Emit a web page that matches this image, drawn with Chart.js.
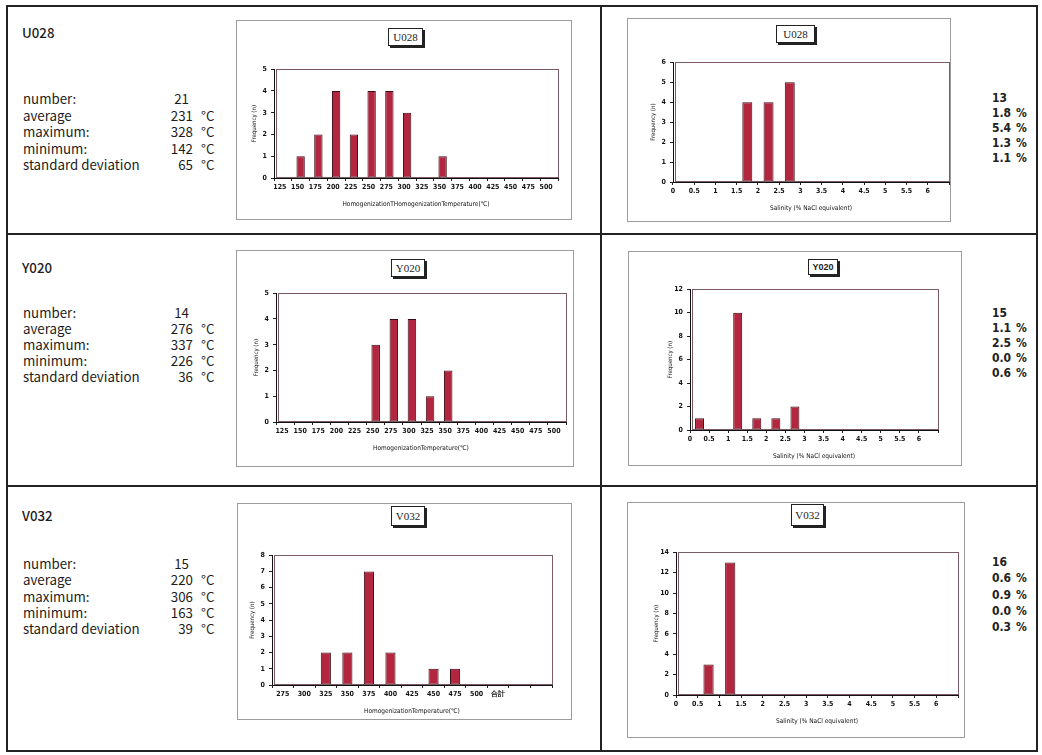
<!DOCTYPE html>
<html>
<head>
<meta charset="utf-8">
<script src="https://cdn.jsdelivr.net/npm/chart.js@4"></script>
<style>
  html, body { margin: 0; padding: 0; background: #fff; }
  body { width: 1042px; height: 755px; position: relative; overflow: hidden; }
  .abs { position: absolute; }
  .line { position: absolute; background: #222; }
  .frame { position: absolute; border: 1px solid #9c9c9c; box-sizing: border-box; }
  .ttl { position: absolute; border: 1px solid #222; background: #fff; box-shadow: 2px 2px 0 #222;
         font: 11px "Liberation Serif", serif; color: #222; text-align: center; box-sizing: border-box; }
  .ttl.sans { font: bold 9px "Liberation Sans", sans-serif; }
  .stat { position: absolute; font: 400 13.3px "Noto Sans CJK JP", sans-serif; color: #1c1c1c; white-space: nowrap; line-height: 16px; }
  .rstat { position: absolute; font: bold 12px "Liberation Sans Narrow", "DejaVu Sans Condensed", "Liberation Sans", sans-serif; color: #222; white-space: nowrap; line-height: 14px; }
  canvas { position: absolute; }
</style>
</head>
<body>
<script>
// ---- histogram data ----
const tempBinsWide = ['125','150','175','200','225','250','275','300','325','350','375','400','425','450','475','500'];
const tempBinsHigh = ['275','300','325','350','375','400','425','450','475','500','合計','',''];
const salinityBins = ['0','0.5','1','1.5','2','2.5','3','3.5','4','4.5','5','5.5','6'];

const u028Temp = [0,1,2,4,2,4,4,3,0,1,0,0,0,0,0,0];
const y020Temp = [0,0,0,0,0,3,4,4,1,2,0,0,0,0,0,0];
const v032Temp = [0,0,2,2,7,2,0,1,1,0,0,0,0];
const u028Sal  = [0,0,0,4,4,5,0,0,0,0,0,0,0];
const y020Sal  = [1,0,10,1,1,2,0,0,0,0,0,0,0];
const v032Sal  = [0,3,13,0,0,0,0,0,0,0,0,0,0];

// ---- summary statistics ----
const statNames = ['number:', 'average', 'maximum:', 'minimum:', 'standard deviation'];
const u028TempStats = ['21','231','328','142','65'];
const y020TempStats = ['14','276','337','226','36'];
const v032TempStats = ['15','220','306','163','39'];
const u028SalStats  = ['13','1.8','5.4','1.3','1.1'];
const y020SalStats  = ['15','1.1','2.5','0.0','0.6'];
const v032SalStats  = ['16','0.6','0.9','0.0','0.3'];

const samples = ['U028', 'Y020', 'V032'];

const tempTitleA = 'HomogenizationTHomogenizationTemperature(℃)';
const tempTitleB = 'HomogenizationTemperature(℃)';
const salTitle = 'Salinity (% NaCl equivalent)';
const yTitle = 'Frequency (n)';

// ---- page furniture: table rules ----
function addDiv(cls, css, text) {
  const d = document.createElement('div');
  d.className = cls;
  Object.assign(d.style, css);
  if (text !== undefined) d.textContent = text;
  document.body.appendChild(d);
  return d;
}
addDiv('abs', {left:'6px', top:'5px', width:'1032px', height:'747px', border:'2px solid #222', boxSizing:'border-box'});
addDiv('line', {left:'6px', top:'233px', width:'1032px', height:'2px'});
addDiv('line', {left:'6px', top:'485px', width:'1032px', height:'2px'});
addDiv('line', {left:'600px', top:'5px', width:'2px', height:'747px'});

// ---- left / right statistic blocks ----
function leftStats(name, vals, titleY, y0, step) {
  addDiv('stat', {left:'22px', top:(titleY-8)+'px', fontWeight:'500'}, name);
  vals.forEach((v, i) => {
    const top = (y0 + i*step - 8) + 'px';
    addDiv('stat', {left:'23px', top}, statNames[i]);
    addDiv('stat', {left:'140px', width:(i === 0 ? '49px' : '53px'), textAlign:'right', top}, v);
    if (i > 0) addDiv('stat', {left:'201px', top}, '°C');
  });
}
function rightStats(vals, y0, step) {
  vals.forEach((v, i) => {
    const top = (y0 + i*step - 7) + 'px';
    addDiv('rstat', {left:'960px', width: (i === 0 ? '47px' : '51px'), textAlign:'right', top}, v);
    if (i > 0) addDiv('rstat', {left:'1016px', top}, '%');
  });
}
leftStats(samples[0], u028TempStats, 33, 99, 16.5);
leftStats(samples[1], y020TempStats, 268, 313, 16);
leftStats(samples[2], v032TempStats, 516, 564, 16.3);
rightStats(u028SalStats, 97.5, 15);
rightStats(y020SalStats, 313, 15);
rightStats(v032SalStats, 562, 16.3);

// ---- chart frames and boxed titles ----
const frames = [
  [236, 20, 572, 220], [627, 18, 951, 222],
  [236, 250, 574, 467], [628, 251, 962, 466],
  [237, 503, 572, 720], [627, 502, 965, 738]
];
frames.forEach(f => addDiv('frame', {left:f[0]+'px', top:f[1]+'px', width:(f[2]-f[0])+'px', height:(f[3]-f[1])+'px'}));

const titleBoxes = [
  [388, 28, 35, 18, samples[0], ''], [776, 25, 39, 18, samples[0], ''],
  [391, 259, 34, 18, samples[1], ''], [808, 259, 30, 16, samples[1], 'sans'],
  [391, 506, 34, 20, samples[2], ''], [791, 504, 33, 22, samples[2], '']
];
titleBoxes.forEach(t => {
  addDiv('ttl ' + t[5], {left:t[0]+'px', top:t[1]+'px', width:t[2]+'px', height:t[3]+'px', lineHeight:(t[3]-2)+'px'}, t[4]);
});

// ---- charts ----
const FONT = "'Liberation Sans Narrow', 'DejaVu Sans Condensed', 'Liberation Sans', sans-serif";
const BAR_FILL = '#b3263f';
const BAR_EDGE = '#3b0b16';

// outline of the plotting area
const plotFrame = {
  id: 'plotFrame',
  afterDraw(chart) {
    const a = chart.chartArea, c = chart.ctx;
    c.save();
    c.strokeStyle = '#7a5a63';
    c.lineWidth = 1;
    c.strokeRect(Math.round(a.left) + 2.5, Math.round(a.top) + 0.5, Math.round(a.right - a.left) - 2, Math.round(a.bottom - a.top) - 1);
    c.restore();
  }
};

function histogram(area, labels, values, yMax, yStep, xTitle, labelShift) {
  const yW = 26, xH = 31, padTop = 8, padRight = 8;
  const cv = document.createElement('canvas');
  const w = (area.r - area.l) + yW + padRight;
  const h = (area.b - area.t) + padTop + xH;
  cv.width = w; cv.height = h;
  cv.style.left = (area.l - yW) + 'px';
  cv.style.top = (area.t - padTop) + 'px';
  document.body.appendChild(cv);
  const catW = (area.r - area.l) / labels.length;
  const shift = labelShift === 'edge' ? -catW / 2 : labelShift;
  new Chart(cv, {
    type: 'bar',
    data: {
      labels,
      datasets: [{
        data: values,
        backgroundColor: BAR_FILL,
        borderColor: BAR_EDGE,
        borderWidth: 1,
        borderSkipped: false,
        barPercentage: 0.47,
        categoryPercentage: 1.0
      }]
    },
    options: {
      responsive: false,
      animation: false,
      devicePixelRatio: 1,
      layout: { padding: { left: 0, top: padTop, right: padRight, bottom: 0 } },
      plugins: { legend: { display: false }, tooltip: { enabled: false } },
      scales: {
        x: {
          type: 'category',
          offset: true,
          afterFit: s => { s.height = xH; },
          grid: { display: true, drawOnChartArea: false, drawTicks: true, tickLength: 3, color: '#222', offset: true },
          border: { display: true, color: '#111', width: 1 },
          ticks: { autoSkip: false, maxRotation: 0, minRotation: 0, padding: 2, labelOffset: shift,
                   color: '#111', font: { family: FONT, size: 7, weight: 'bold' } },
          title: { display: true, text: xTitle, color: '#111', padding: { top: 2, bottom: 1 },
                   font: { family: FONT, size: 6.5 } }
        },
        y: {
          min: 0, max: yMax,
          afterFit: s => { s.width = yW; },
          grid: { display: true, drawOnChartArea: false, drawTicks: true, tickLength: 3, color: '#222' },
          border: { display: true, color: '#111', width: 1 },
          ticks: { stepSize: yStep, padding: 4, color: '#111', font: { family: FONT, size: 7, weight: 'bold' } },
          title: { display: true, text: yTitle, color: '#111', padding: { top: 3, bottom: 2 },
                   font: { family: FONT, size: 6 } }
        }
      }
    },
    plugins: [plotFrame]
  });
}

histogram({l:274, t:69,  r:558, b:178}, tempBinsWide, u028Temp, 5, 1, tempTitleA, -3);
histogram({l:673, t:62,  r:949, b:182}, salinityBins, u028Sal, 6, 1, salTitle, 'edge');
histogram({l:276, t:293, r:566, b:422}, tempBinsWide, y020Temp, 5, 1, tempTitleB, -3);
histogram({l:690, t:289, r:938, b:430}, salinityBins, y020Sal, 12, 2, salTitle, 'edge');
histogram({l:272, t:555, r:552, b:685}, tempBinsHigh, v032Temp, 8, 1, tempTitleB, 0);
histogram({l:676, t:552, r:958, b:695}, salinityBins, v032Sal, 14, 2, salTitle, 'edge');
</script>
</body>
</html>
